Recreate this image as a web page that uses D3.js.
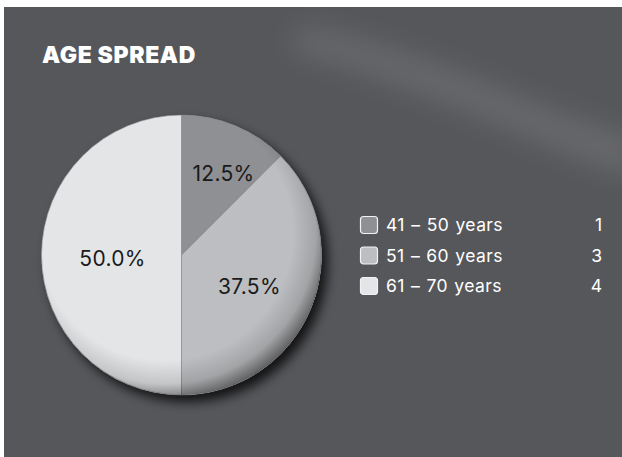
<!DOCTYPE html>
<html>
<head>
<meta charset="utf-8">
<script src="https://cdn.jsdelivr.net/npm/d3@7"></script>
<style>
  html, body { margin: 0; padding: 0; background: #ffffff; }
  svg { display: block; }
</style>
</head>
<body>
<svg id="chart" width="622" height="457"></svg>
<script>
// Age groups and head counts
const categories = ["41 – 50 years", "51 – 60 years", "61 – 70 years"];
const counts = [1, 3, 4];
const sliceColors = ["#8f9094", "#bdbec1", "#e4e5e7"];
const title = "AGE SPREAD";

const W = 622, H = 457;
const svg = d3.select("#chart");
const defs = svg.append("defs");

// Panel background
svg.append("rect")
  .attr("x", 4).attr("y", 7)
  .attr("width", W - 4).attr("height", H - 7)
  .attr("fill", "#56575b");

// Soft sheen across the top right of the panel
const sheenBlur = defs.append("filter").attr("id", "sheenBlur")
  .attr("x", "-50%").attr("y", "-50%").attr("width", "200%").attr("height", "200%");
sheenBlur.append("feGaussianBlur").attr("stdDeviation", 14);
const clip = defs.append("clipPath").attr("id", "panelClip");
clip.append("rect").attr("x", 4).attr("y", 7).attr("width", W - 4).attr("height", H - 7);
svg.append("g").attr("clip-path", "url(#panelClip)")
  .append("path")
  .attr("d", "M300,25 C400,45 470,75 540,105 C580,120 610,130 640,138 L640,178 C600,168 560,152 520,134 C450,104 380,76 290,50 Z")
  .attr("fill", "#ffffff")
  .attr("opacity", 0.1)
  .attr("filter", "url(#sheenBlur)");

// Title
svg.append("text")
  .attr("x", 42).attr("y", 63)
  .attr("fill", "#ffffff")
  .attr("font-family", "Inter, 'Noto Sans', sans-serif")
  .attr("font-weight", 900)
  .attr("font-size", 23)
  .attr("letter-spacing", 0.6)
  .text(title);

// Pie
const cx = 181.5, cy = 255, R = 140;
const total = d3.sum(counts);
const data = categories.map((c, i) => ({ label: c, value: counts[i], color: sliceColors[i] }));
const pie = d3.pie().value(d => d.value).sort(null);
const arcs = pie(data);
const arc = d3.arc().innerRadius(0).outerRadius(R);

const shadow = defs.append("filter").attr("id", "pieShadow")
  .attr("x", "-30%").attr("y", "-30%").attr("width", "160%").attr("height", "160%");
shadow.append("feDropShadow")
  .attr("dx", 6).attr("dy", 7).attr("stdDeviation", 6)
  .attr("flood-color", "#000000").attr("flood-opacity", 0.8);

const shade = defs.append("radialGradient").attr("id", "pieShade")
  .attr("cx", "44%").attr("cy", "42%").attr("r", "60%");
shade.append("stop").attr("offset", "0.76").attr("stop-color", "#000").attr("stop-opacity", 0);
shade.append("stop").attr("offset", "0.9").attr("stop-color", "#000").attr("stop-opacity", 0.14);
shade.append("stop").attr("offset", "1").attr("stop-color", "#000").attr("stop-opacity", 0.5);

const g = svg.append("g").attr("transform", `translate(${cx},${cy})`);

g.append("circle").attr("r", R).attr("fill", "#cfd0d2").attr("filter", "url(#pieShadow)");

g.selectAll("path.slice")
  .data(arcs)
  .join("path")
  .attr("class", "slice")
  .attr("d", arc)
  .attr("fill", d => d.data.color)
  .attr("stroke", "#7d7e82")
  .attr("stroke-width", 0.6);

g.append("circle").attr("r", R).attr("fill", "url(#pieShade)");

// Percentage labels: narrower slices get their label pushed further out
const fmt = d3.format(".1f");
g.selectAll("text.pct")
  .data(arcs)
  .join("text")
  .attr("class", "pct")
  .attr("transform", d => {
    const frac = d.data.value / total;
    const t = (0.5 - frac) / 0.375;
    const rr = R * (0.5 + 0.17 * t * t);
    const a = (d.startAngle + d.endAngle) / 2 + 0.06 * t * t;
    return `translate(${Math.sin(a) * rr + 1},${-Math.cos(a) * rr + 3})`;
  })
  .attr("text-anchor", "middle")
  .attr("dy", "0.36em")
  .attr("fill", "#1a1a1a")
  .attr("font-family", "Inter, 'Noto Sans', sans-serif")
  .attr("font-size", 21)
  .attr("letter-spacing", 0.3)
  .text(d => fmt(d.data.value / total * 100) + "%");

// Legend
const legend = svg.append("g").attr("transform", "translate(360,225)");
const rowH = 30.5;
const rows = legend.selectAll("g.row")
  .data(data)
  .join("g")
  .attr("class", "row")
  .attr("transform", (d, i) => `translate(0,${i * rowH})`);

rows.append("rect")
  .attr("x", 0.5).attr("y", -8.5)
  .attr("width", 17).attr("height", 17)
  .attr("rx", 3)
  .attr("fill", d => d.color)
  .attr("stroke", "#f2f2f2")
  .attr("stroke-width", 1.2);

rows.append("text")
  .attr("x", 26).attr("dy", "0.36em")
  .attr("fill", "#ffffff")
  .attr("font-family", "Inter, 'Noto Sans', sans-serif")
  .attr("font-size", 17.5)
  .attr("letter-spacing", 0.4)
  .attr("word-spacing", 1)
  .text(d => d.label);

rows.append("text")
  .attr("x", 242).attr("dy", "0.36em")
  .attr("text-anchor", "end")
  .attr("fill", "#ffffff")
  .attr("font-family", "Inter, 'Noto Sans', sans-serif")
  .attr("font-size", 17.5)
  .text(d => d.value);
</script>
</body>
</html>
